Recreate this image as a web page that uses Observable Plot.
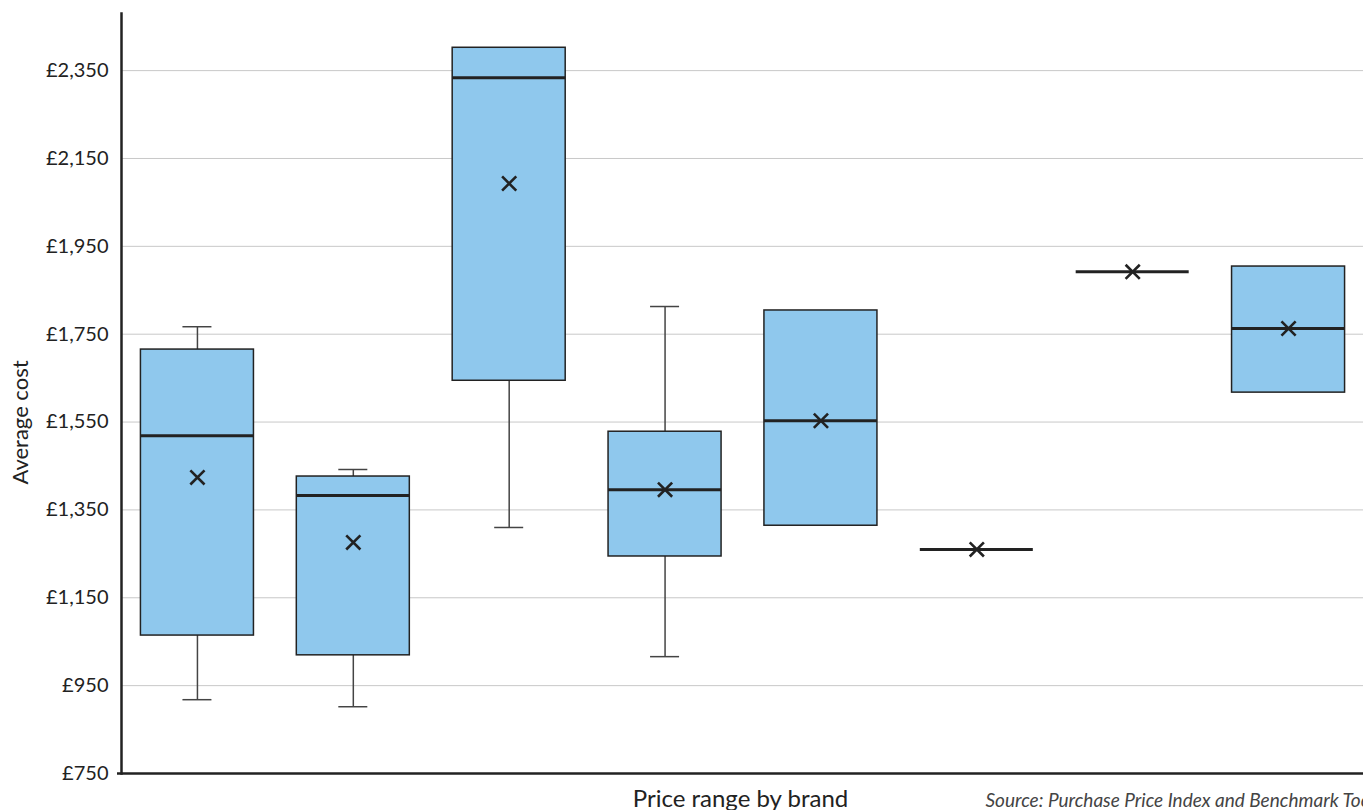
<!DOCTYPE html>
<html>
<head>
<meta charset="utf-8">
<script src="https://cdn.jsdelivr.net/npm/d3@7"></script>
<script src="https://cdn.jsdelivr.net/npm/@observablehq/plot@0.6"></script>
<style>
  html, body { margin: 0; padding: 0; background: #fff; overflow: hidden; }
  #chart svg { display: block; }
</style>
</head>
<body>
<div id="chart"></div>
<script>
const brands = ["Brand 1", "Brand 2", "Brand 3", "Brand 4", "Brand 5", "Brand 6", "Brand 7", "Brand 8"];
const minVals = [918, 902, 1310, 1016, 1314, 1260, 1892, 1617];
const q1Vals = [1064, 1019, 1644, 1244, 1314, 1260, 1892, 1617];
const medianVals = [1519, 1383, 2334, 1396, 1553, 1260, 1892, 1763];
const q3Vals = [1715, 1426, 2402, 1528, 1804, 1260, 1892, 1904];
const maxVals = [1767, 1442, 2402, 1813, 1804, 1260, 1892, 1904];
const meanVals = [1424, 1276, 2093, 1396, 1553, 1260, 1892, 1763];
const yTicks = [750, 950, 1150, 1350, 1550, 1750, 1950, 2150, 2350];
const gridTicks = [950, 1150, 1350, 1550, 1750, 1950, 2150, 2350];
const yLabel = "Average cost";
const xLabel = "Price range by brand";
const sourceText = "Source: Purchase Price Index and Benchmark Tool";

const rows = brands.map((b, i) => ({
  brand: b, min: minVals[i], q1: q1Vals[i], median: medianVals[i],
  q3: q3Vals[i], max: maxVals[i], mean: meanVals[i]
}));
const boxes = rows.filter(d => d.q3 > d.q1);
const lowWhisk = rows.filter(d => d.min < d.q1);
const highWhisk = rows.filter(d => d.max > d.q3);

const fmt = d => "£" + d3.format(",")(d);

const chart = Plot.plot({
  width: 1363,
  height: 810,
  marginTop: 13,
  marginBottom: 37,
  marginLeft: 121,
  marginRight: 0,
  style: { fontFamily: "Lato, 'Noto Sans', sans-serif", color: "#222", background: "#fff", overflow: "visible" },
  x: { domain: brands, range: [119, 1366], round: false, paddingInner: 0.275, paddingOuter: 0.1375, axis: null },
  y: { domain: [750, 2480], axis: null },
  marks: [
    Plot.gridY(gridTicks, { stroke: "#c8c8c8", strokeOpacity: 1, strokeWidth: 1 }),
    Plot.axisY(yTicks, { tickSize: 0, tickPadding: 13, tickFormat: fmt, fontSize: 20, fill: "#222", label: null }),
    // whiskers
    Plot.ruleX(lowWhisk, { x: "brand", y1: "min", y2: "q1", stroke: "#444", strokeWidth: 1.5 }),
    Plot.ruleX(highWhisk, { x: "brand", y1: "q3", y2: "max", stroke: "#444", strokeWidth: 1.5 }),
    Plot.tickY(lowWhisk, { x: "brand", y: "min", stroke: "#444", strokeWidth: 1.5, insetLeft: 42, insetRight: 42 }),
    Plot.tickY(highWhisk, { x: "brand", y: "max", stroke: "#444", strokeWidth: 1.5, insetLeft: 42, insetRight: 42 }),
    // boxes
    Plot.barY(boxes, { x: "brand", y1: "q1", y2: "q3", fill: "#8fc8ed", stroke: "#222", strokeWidth: 1.5 }),
    // medians
    Plot.tickY(rows, { x: "brand", y: "median", stroke: "#222", strokeWidth: 3 }),
    // means
    Plot.dot(rows, { x: "brand", y: "mean", symbol: "times", r: 6.5, stroke: "#222", strokeWidth: 2.6 }),
    // axis lines
    Plot.ruleY([750], { stroke: "#222", strokeWidth: 2.5, insetLeft: -4 }),
    Plot.frame({ anchor: "left", stroke: "#222", strokeWidth: 2.5 }),
    // labels
    Plot.text([yLabel], { frameAnchor: "left", textAnchor: "middle", dx: -101, dy: 29, rotate: -90, fontSize: 22, fill: "#222" }),
    Plot.text([xLabel], { frameAnchor: "bottom", dx: -2, dy: 33, fontSize: 24, fill: "#222" }),
    Plot.text([sourceText], { frameAnchor: "bottom-left", dx: 864, dy: 33, textAnchor: "start", fontSize: 19, fontStyle: "italic", fill: "#444" })
  ]
});
document.getElementById("chart").append(chart);
</script>
</body>
</html>
